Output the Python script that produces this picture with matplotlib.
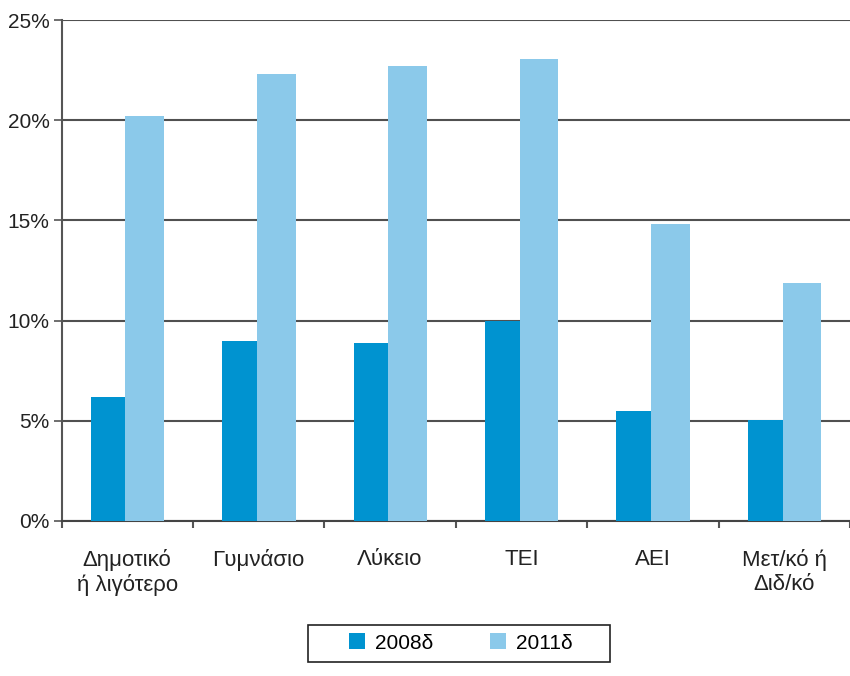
import numpy as np
import matplotlib.pyplot as plt
from matplotlib.patches import Patch, Rectangle

plt.rcParams['font.family'] = ['Liberation Sans', 'DejaVu Sans']

# --- Dados ---
categorias = ["Δημοτικό\nή λιγότερο", "Γυμνάσιο", "Λύκειο", "ΤΕΙ", "ΑΕΙ", "Μετ/κό ή\nΔιδ/κό"]
v2008 = [6.2, 9.0, 8.9, 10.0, 5.5, 5.05]
v2011 = [20.2, 22.3, 22.7, 23.05, 14.8, 11.9]
series = ["2008δ", "2011δ"]
cores = ["#0093d0", "#8bc9ea"]
yticks = [0, 5, 10, 15, 20, 25]

fig = plt.figure(figsize=(8.5, 6.76), dpi=100)
ax = fig.add_axes([61.5 / 850, 0.2293, 1 - 61.5 / 850, 0.7411])

x = np.arange(len(categorias))
# barras levemente assimétricas, como no original
ax.bar(x - 0.277, v2008, width=0.264, align="edge", color=cores[0], zorder=3)
ax.bar(x - 0.013, v2011, width=0.294, align="edge", color=cores[1], zorder=3)

ax.set_xlim(-0.5, 5.44)
ax.set_ylim(0, 25)

# Grid horizontal
ax.set_yticks(yticks)
ax.set_yticklabels([f"{t}%" for t in yticks], fontsize=15, color="#222222")
ax.grid(axis="y", color="#505050", linewidth=1.5, zorder=1)
ax.tick_params(axis="y", length=5.5, width=1.2, color="#555555", pad=3)

# Eixo x: rótulos no centro, marcas entre categorias
ax.set_xticks(x)
ax.set_xticklabels(categorias, fontsize=16, color="#222222", linespacing=1.2)
ax.tick_params(axis="x", which="major", length=0, pad=20)
ax.set_xticks(np.arange(-0.5, 6, 1), minor=True)
ax.tick_params(axis="x", which="minor", length=5, width=1.5, color="#555555")

for s in ["top", "right"]:
    ax.spines[s].set_visible(False)
ax.spines["left"].set_color("#555555")
ax.spines["left"].set_linewidth(1.5)
ax.spines["bottom"].set_color("#444444")
ax.spines["bottom"].set_linewidth(1.5)
ax.set_axisbelow(True)

# Legenda (caixa desenhada à parte para ter margem lateral maior)
handles = [Patch(facecolor=c, edgecolor="none") for c in cores]
fig.legend(
    handles, series, loc="center", bbox_to_anchor=(461 / 850, 1 - 643 / 676),
    ncol=2, fontsize=15, frameon=False,
    handlelength=0.77, handleheight=0.77, handletextpad=0.5, columnspacing=2.7,
    borderpad=0, borderaxespad=0,
)
fig.patches.append(Rectangle(
    (308 / 850, 1 - 662 / 676), 302 / 850, 37 / 676,
    transform=fig.transFigure, fill=False, edgecolor="#222222", linewidth=1.2,
))

fig.savefig("out.png", dpi=100)
